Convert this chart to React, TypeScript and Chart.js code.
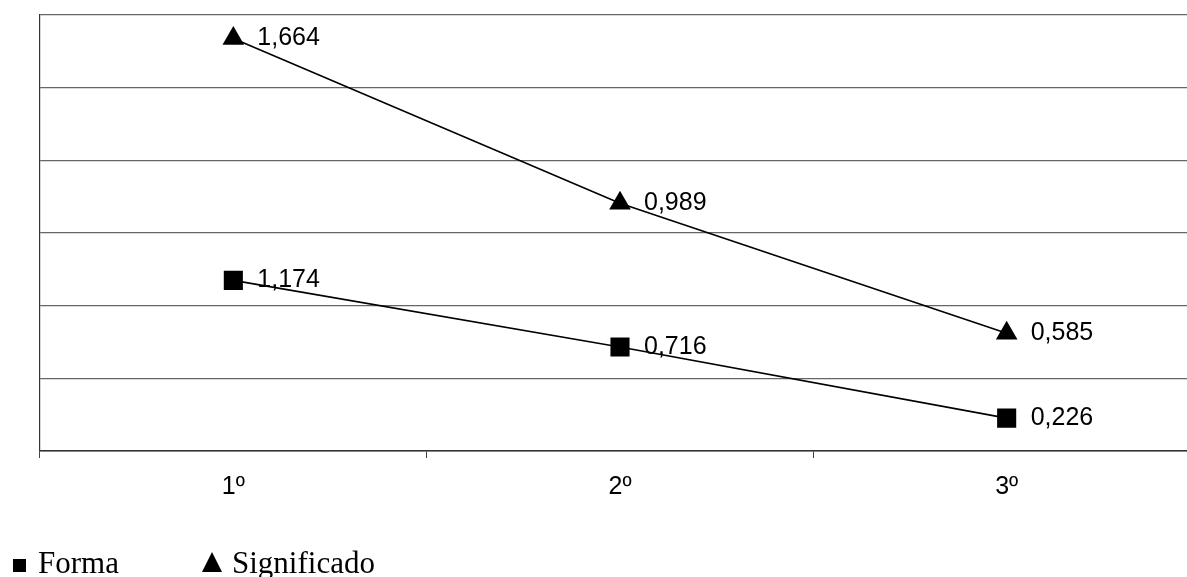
import React, { useEffect, useRef } from "react";
import { Chart, registerables } from "chart.js";

Chart.register(...registerables);

const categories = ["1º", "2º", "3º"];
const seriesNames = ["Forma", "Significado"];
const formaValues = [1.174, 0.716, 0.226];
const significadoValues = [1.664, 0.989, 0.585];
const yMin = 0;
const yMax = 3;
const yStep = 0.5;

const fmt = (v: number) => v.toFixed(3).replace(".", ",");

const applyExtend = (chart: any) => {
  const x = chart.scales.x;
  if (!x) return;
  const target = chart.width + 13;
  x.right = target;
  x.width = target - x.left;
  x.configure();
  x._gridLineItems = null;
  x._labelItems = null;
  chart.chartArea.right = target;
  chart.chartArea.width = target - chart.chartArea.left;
  if (chart.scales.y) chart.scales.y._gridLineItems = null;
};

// The plot area in the reference runs a little past the right edge of the picture.
const extendRight = {
  id: "extendRight",
  afterLayout(chart: any) {
    applyExtend(chart);
  },
  beforeDatasetsUpdate(chart: any) {
    applyExtend(chart);
  },
};

const valueLabels = {
  id: "valueLabels",
  beforeDatasetsDraw(chart: any) {
    const ctx = chart.ctx;
    ctx.save();
    ctx.font = '25px "Liberation Sans", Arial, sans-serif';
    ctx.fillStyle = "#000";
    ctx.textAlign = "left";
    ctx.textBaseline = "middle";
    chart.data.datasets.forEach((ds: any, i: number) => {
      const meta = chart.getDatasetMeta(i);
      meta.data.forEach((pt: any, j: number) => {
        ctx.fillText(fmt(ds.data[j]), pt.x + 24, pt.y);
      });
    });
    ctx.restore();
  },
};

const customLegend = {
  id: "customLegend",
  afterDraw(chart: any) {
    const ctx = chart.ctx;
    const names = chart.data.datasets.map((d: any) => d.label);
    ctx.save();
    ctx.fillStyle = "#000";
    ctx.font = '31px "Liberation Serif", "Times New Roman", serif';
    ctx.textAlign = "left";
    ctx.textBaseline = "alphabetic";
    ctx.fillRect(13, 559, 13, 13);
    ctx.fillText(names[0], 38, 573);
    ctx.beginPath();
    ctx.moveTo(212, 552);
    ctx.lineTo(222, 572);
    ctx.lineTo(202, 572);
    ctx.closePath();
    ctx.fill();
    ctx.fillText(names[1], 232, 573);
    ctx.restore();
  },
};

export default function App() {
  const canvasRef = useRef<HTMLCanvasElement | null>(null);

  useEffect(() => {
    if (!canvasRef.current) return;
    const chart = new Chart(canvasRef.current, {
      type: "line",
      data: {
        labels: categories,
        datasets: [
          {
            label: seriesNames[0],
            data: formaValues,
            borderColor: "#000",
            backgroundColor: "#000",
            borderWidth: 1.6,
            pointStyle: "rect",
            pointRadius: 13.5,
            pointBorderWidth: 0,
            pointBackgroundColor: "#000",
            fill: false,
            tension: 0,
          },
          {
            label: seriesNames[1],
            data: significadoValues,
            borderColor: "#000",
            backgroundColor: "#000",
            borderWidth: 1.6,
            pointStyle: "triangle",
            pointRadius: 12.5,
            pointBorderWidth: 0,
            pointBackgroundColor: "#000",
            fill: false,
            tension: 0,
          },
        ],
      },
      options: {
        responsive: false,
        animation: false,
        layout: { padding: { left: 40, top: 15, right: 0, bottom: 0 } },
        plugins: {
          legend: { display: false },
          tooltip: { enabled: false },
        },
        scales: {
          x: {
            offset: true,
            grid: {
              display: true,
              drawOnChartArea: false,
              drawTicks: true,
              tickLength: 7,
              offset: true,
              color: "#444",
            },
            border: { display: true, color: "#333", width: 1.5 },
            ticks: {
              color: "#000",
              font: { family: '"Liberation Sans", Arial, sans-serif', size: 25 },
              padding: 14,
              maxRotation: 0,
            },
            afterFit: (s: any) => {
              s.height = 126;
            },
          },
          y: {
            stacked: true,
            min: yMin,
            max: yMax,
            ticks: { display: false, stepSize: yStep },
            grid: { color: "#666", drawTicks: false, lineWidth: 1.2 },
            border: { display: true, color: "#333", width: 1.2 },
          },
        },
      },
      plugins: [extendRight, valueLabels, customLegend],
    });
    return () => chart.destroy();
  }, []);

  return (
    <div
      style={{
        position: "fixed",
        left: 0,
        top: 0,
        width: "1187px",
        height: "577px",
        overflow: "hidden",
        background: "#fff",
      }}
    >
      <canvas
        ref={canvasRef}
        width={1187}
        height={577}
        style={{ display: "block", width: "1187px", height: "577px" }}
      />
    </div>
  );
}
